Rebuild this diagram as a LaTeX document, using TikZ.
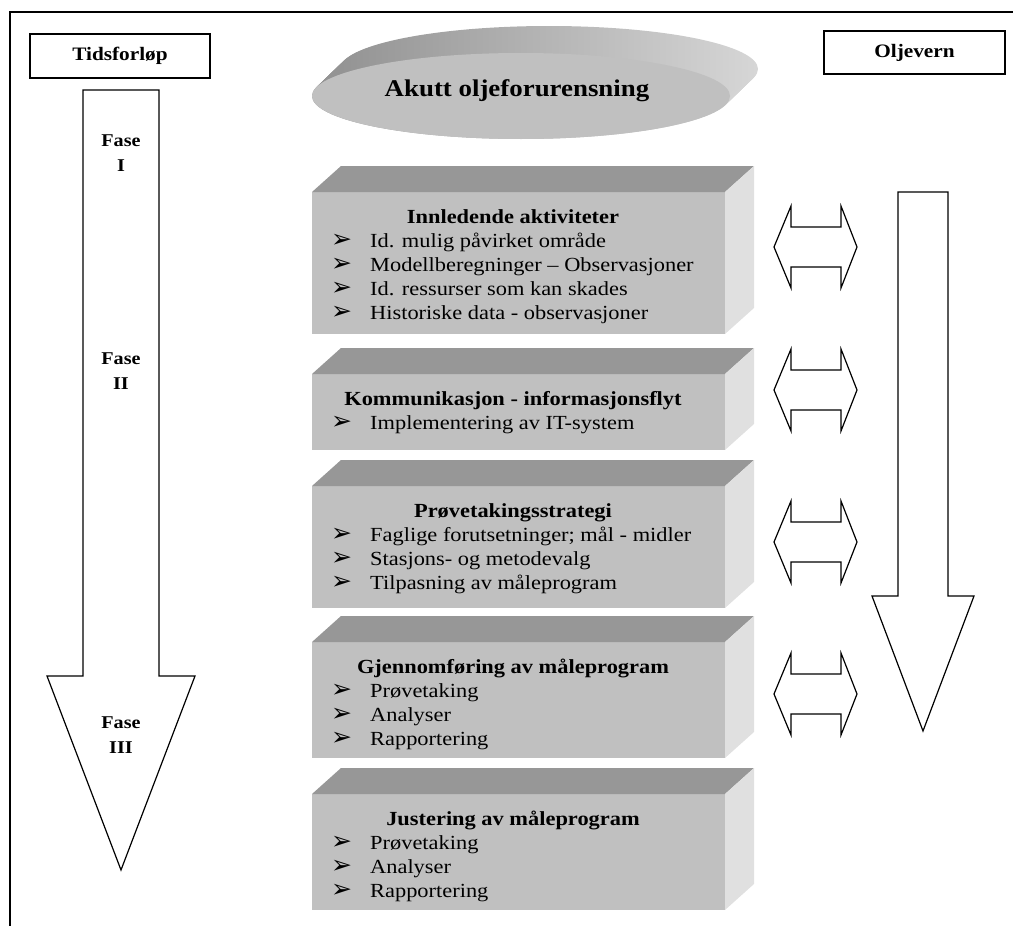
\documentclass[tikz,border=0pt]{standalone}
\usepackage{fontspec}
\setmainfont{Liberation Serif}[FakeStretch=1.12]
\newfontfamily\pilfont{DejaVu Sans}
\usetikzlibrary{calc}
\definecolor{FrontClr}{rgb}{0.753,0.753,0.753}
\definecolor{TopClr}{rgb}{0.592,0.592,0.592}
\definecolor{SideClr}{rgb}{0.878,0.878,0.878}
\definecolor{RimDark}{rgb}{0.58,0.58,0.58}
\definecolor{RimLight}{rgb}{0.84,0.84,0.84}

% 3D block: name, front top, front bottom, title, bullets
\newcommand{\Blokk}[5]{%
  \fill[FrontClr] (312,#2) rectangle (725,#3);
  \fill[TopClr] (312,#2) -- (341,#2-26) -- (754,#2-26) -- (725,#2) -- cycle;
  \fill[SideClr] (725,#2) -- (754,#2-26) -- (754,#3-26) -- (725,#3) -- cycle;
  \node[tittel] (#1) at (513,#2+31) {#4};
  \foreach \t [count=\i] in {#5}
    \node[punkt] (#1\i) at (331,#2+31+24*\i) {\makebox[39pt][l]{\pilfont\fontsize{25}{25}\selectfont ➢}\t};
}

\begin{document}
\begin{tikzpicture}[x=1pt,y=-1pt,
  ramme/.style={line width=1.2pt},
  pil/.style={draw,line width=1.2pt,fill=white,line join=miter},
  boks/.style={draw,line width=1.2pt,minimum width=180pt,minimum height=44pt,
    font=\bfseries\fontsize{19}{20}\selectfont},
  fase/.style={align=center,inner sep=0pt,font=\bfseries\fontsize{18}{25}\selectfont},
  tittel/.style={anchor=base,inner sep=0pt,font=\bfseries\fontsize{20}{24}\selectfont},
  punkt/.style={anchor=base west,inner sep=0pt,font=\fontsize{20}{24}\selectfont}]
\useasboundingbox (0,0) rectangle (1013,926);

% frame
\draw[ramme] (10,926) -- (10,12) -- (1013,12);

% headers
\node[boks] (tid) at (120,56) {Tidsforløp};
\node[boks,minimum width=181pt,minimum height=43pt] (olje) at (914.5,52.5) {Oljevern};

% time arrow
\draw[pil] (83,90) -- (159,90) -- (159,676) -- (195,676) -- (121,870)
  -- (47,676) -- (83,676) -- cycle;
\node[fase] (f1) at (121,153) {Fase\\I};
\node[fase] (f2) at (121,371) {Fase\\II};
\node[fase] (f3) at (121,735) {Fase\\III};

% oil response arrow
\draw[pil] (898,192) -- (948,192) -- (948,596) -- (974,596) -- (923,731)
  -- (872,596) -- (898,596) -- cycle;

% double arrows
\foreach \cy in {247,390,542,694}
  \draw[pil] (774,\cy) -- (791,\cy-41) -- (791,\cy-20) -- (841,\cy-20)
    -- (841,\cy-41) -- (857,\cy) -- (841,\cy+41) -- (841,\cy+20)
    -- (791,\cy+20) -- (791,\cy+41) -- cycle;

% disc
\foreach \k in {0,...,28}
  \shade[left color=RimDark,right color=RimLight]
    (521+\k,96-\k*27/28) ellipse [x radius=209,y radius=43];
\fill[FrontClr] (521,96) ellipse [x radius=209,y radius=43];
\node[font=\bfseries\fontsize{24}{28}\selectfont] (akutt) at (517,91) {Akutt oljeforurensning};

% blocks
\Blokk{innl}{192}{334}{Innledende aktiviteter}{Id. mulig påvirket område,
  Modellberegninger – Observasjoner,Id. ressurser som kan skades,
  Historiske data - observasjoner}
\Blokk{komm}{374}{450}{Kommunikasjon - informasjonsflyt}{Implementering av IT-system}
\Blokk{strat}{486}{608}{Prøvetakingsstrategi}{Faglige forutsetninger; mål - midler,
  Stasjons- og metodevalg,Tilpasning av måleprogram}
\Blokk{gjen}{642}{758}{Gjennomføring av måleprogram}{Prøvetaking,Analyser,Rapportering}
\Blokk{just}{794}{910}{Justering av måleprogram}{Prøvetaking,Analyser,Rapportering}

\end{tikzpicture}
\end{document}
